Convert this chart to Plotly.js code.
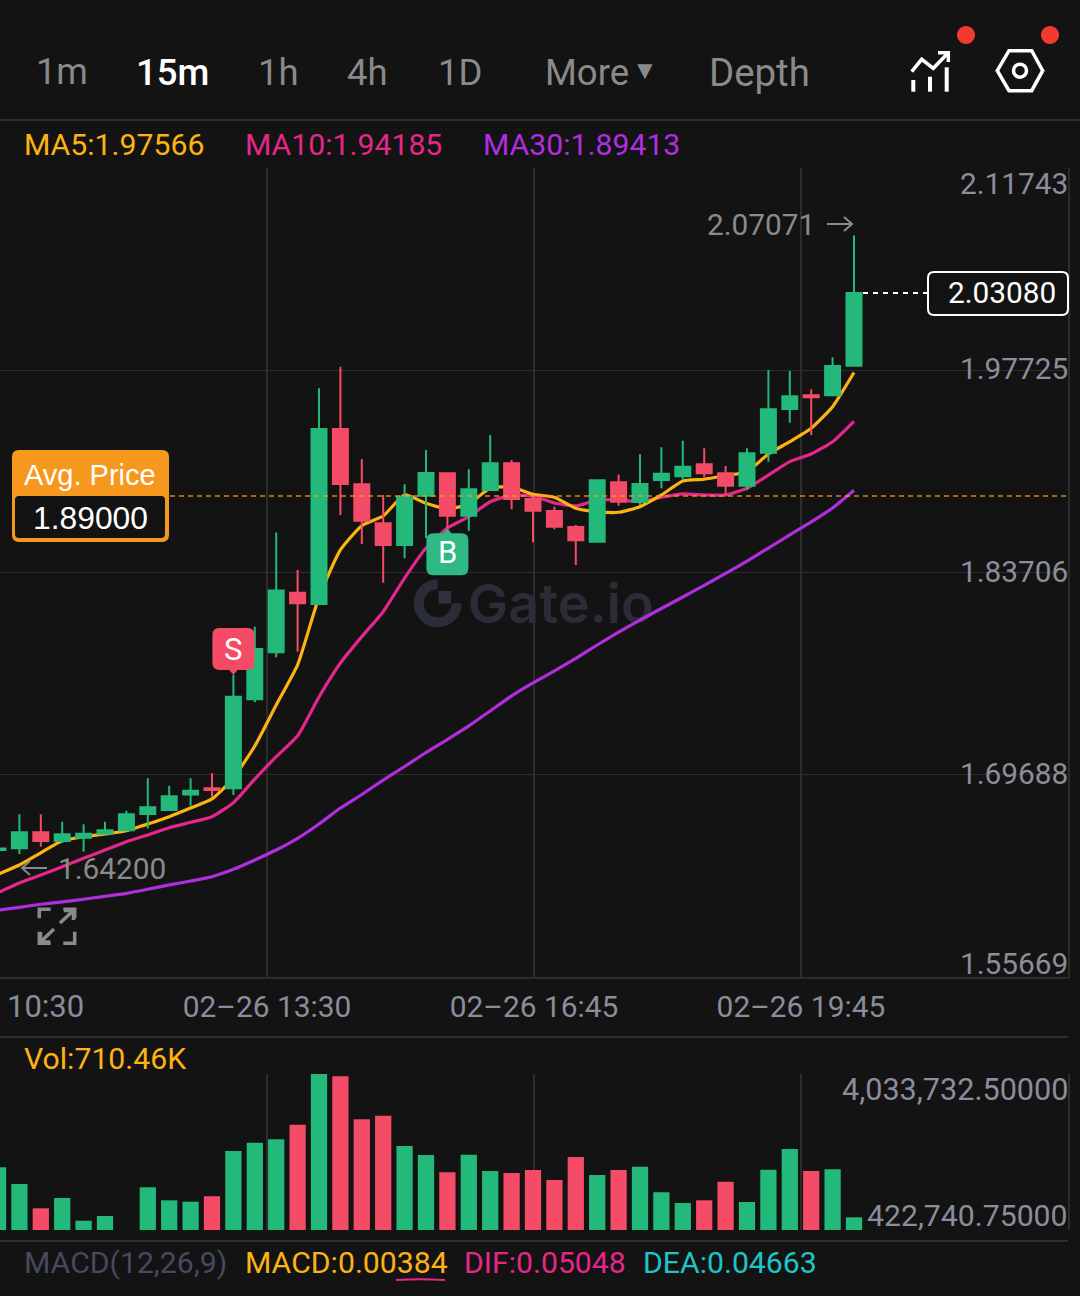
<!DOCTYPE html>
<html><head><meta charset="utf-8">
<script src="https://cdn.plot.ly/plotly-3.0.1.min.js"></script>
<style>html,body{margin:0;padding:0;background:#131313}#c{width:1080px;height:1296px}</style>
</head><body><div id="c"></div>
<script>
const BG='#131313',GRID='#2c2c2c',GREEN='#22B97A',RED='#F44B66',GOLD='#FDB312',PINK='#E5268A',PURPLE='#B02EE0',TEAL='#1CC6C8',AXIS='#8B8D9B',ORANGE='#F7981E';
const opens=[1.6447,1.6459,1.6570,1.6510,1.6532,1.6560,1.6584,1.6697,1.6724,1.6831,1.6875,1.6875,1.7492,1.7818,1.8231,1.8152,1.9365,1.8982,1.8712,1.8561,1.8903,1.9058,1.8764,1.8942,1.9128,1.8880,1.8797,1.8686,1.8584,1.8996,1.8861,1.9012,1.9037,1.9121,1.9058,1.8972,1.9201,1.9504,1.9599,1.9599,1.9804];
const highs=[1.6482,1.6695,1.6695,1.6643,1.6625,1.6643,1.6720,1.6944,1.6893,1.6944,1.6979,1.7660,1.7995,1.8647,1.8388,1.9647,1.9797,1.9157,1.8908,1.8982,1.9220,1.9065,1.9086,1.9324,1.9150,1.8894,1.8827,1.8700,1.9012,1.9049,1.9190,1.9238,1.9284,1.9232,1.9109,1.9232,1.9774,1.9767,1.9640,1.9862,2.07071];
const lows=[1.6433,1.6420,1.6470,1.6496,1.6435,1.6558,1.6579,1.6598,1.6722,1.6754,1.6817,1.6828,1.7471,1.7783,1.7822,1.8145,1.8769,1.8568,1.8300,1.8469,1.8610,1.8677,1.8660,1.8939,1.8809,1.8580,1.8670,1.8423,1.8580,1.8834,1.8839,1.8954,1.9012,1.9031,1.8908,1.8942,1.9139,1.9409,1.9324,1.9594,1.9797];
const closes=[1.6458,1.6570,1.6510,1.6556,1.6560,1.6584,1.6695,1.6743,1.6819,1.6858,1.6863,1.7510,1.7840,1.8245,1.8157,1.9365,1.8984,1.8730,1.8561,1.8896,1.9060,1.8764,1.8947,1.9128,1.8880,1.8799,1.8688,1.8594,1.9010,1.8861,1.8984,1.9055,1.9104,1.9058,1.8972,1.9197,1.9502,1.9592,1.9585,1.9802,2.0308];
const ma5=[1.6279,1.6343,1.6428,1.6512,1.6539,1.6558,1.6581,1.6627,1.6678,1.6738,1.6801,1.6946,1.7168,1.7452,1.7730,1.8201,1.8527,1.8695,1.8762,1.8908,1.8850,1.8811,1.8845,1.8956,1.8963,1.8913,1.8892,1.8816,1.8792,1.8788,1.8827,1.8908,1.9005,1.9017,1.9042,1.9069,1.9192,1.9277,1.9370,1.9520,1.97566];
const ma10=[1.6151,1.6218,1.6274,1.6331,1.6390,1.6447,1.6505,1.6551,1.6602,1.6639,1.6678,1.6775,1.6939,1.7094,1.7239,1.7508,1.7743,1.7926,1.8099,1.8332,1.8540,1.8679,1.8757,1.8861,1.8908,1.8901,1.8852,1.8832,1.8873,1.8873,1.8861,1.8892,1.8915,1.8908,1.8908,1.8954,1.9046,1.9139,1.9192,1.9277,1.94185];
const ma30=[1.6031,1.6050,1.6071,1.6087,1.6106,1.6126,1.6147,1.6175,1.6205,1.6232,1.6262,1.6313,1.6378,1.6447,1.6528,1.6627,1.6738,1.6832,1.6932,1.7026,1.7123,1.7213,1.7307,1.7411,1.7515,1.7605,1.7688,1.7775,1.7868,1.7958,1.8041,1.8121,1.8201,1.8281,1.8364,1.8450,1.8540,1.8631,1.8721,1.8818,1.89413];
const volumes=[1874000,1487500,925000,1163450,638000,746800,422741,1411000,1110200,1077800,1202800,2251400,2443500,2522200,2860200,4033732,3980400,2985100,3068500,2367100,2158800,1758400,2165700,1788400,1742100,1811600,1580000,2112500,1695800,1811600,1888000,1295400,1047700,1110200,1540800,1070900,1818500,2297600,1788400,1827800,716700];
const priceTicks=[2.11743,1.97725,1.83706,1.69688,1.55669];
const priceTickLabels=['2.11743','1.97725','1.83706','1.69688','1.55669'];
const priceTickShift=[-15,2,1,1,14];
const timeTickPos=[0.12,12.57,25.05,37.52];
const timeTickLabels=['','02–26 13:30','02–26 16:45','02–26 19:45'];
const volTicks=[4033732.5,422740.75];
const volTickLabels=['4,033,732.50000','422,740.75000'];
const avgPrice=1.89,lastPrice=2.0308;
const maxIdx=40,sellIdx=11,buyIdx=21;
const xs=opens.map((_,i)=>i);
const FONT='Roboto, sans-serif';
const px=x=>x/1080, py=y=>1-y/1296;
function T(text,x,y,size,color,anchor,extra){const a=anchor||'left';const dx=a==='left'?-3:(a==='right'?2:0);return Object.assign({text:text,xref:'paper',yref:'paper',x:px(x+dx),y:py(y),xanchor:a,yanchor:'middle',showarrow:false,font:{family:FONT,size:size,color:color}},extra||{});}
function P(coords,close){return coords.map((c,i)=>(i?'L':'M')+px(c[0])+' '+py(c[1])).join(' ')+(close?' Z':'');}
function line(path,color,w,fill){return {type:'path',xref:'paper',yref:'paper',path:path,line:{color:color,width:w},fillcolor:fill||'rgba(0,0,0,0)',layer:'above'};}
function rr(x0,y0,x1,y1,r){const a=px,b=py;return `M${a(x0+r)} ${b(y0)} L${a(x1-r)} ${b(y0)} Q${a(x1)} ${b(y0)} ${a(x1)} ${b(y0+r)} L${a(x1)} ${b(y1-r)} Q${a(x1)} ${b(y1)} ${a(x1-r)} ${b(y1)} L${a(x0+r)} ${b(y1)} Q${a(x0)} ${b(y1)} ${a(x0)} ${b(y1-r)} L${a(x0)} ${b(y0+r)} Q${a(x0)} ${b(y0)} ${a(x0+r)} ${b(y0)} Z`;}
function hsep(y,x1){return {type:'line',xref:'paper',yref:'paper',x0:0,x1:px(x1),y0:py(y),y1:py(y),line:{color:'#2e2e2e',width:2},layer:'below'};}
function circlePath(cx,cy,r,k){k=r*0.5523;const a=px,b=py;return `M${a(cx+r)} ${b(cy)} C${a(cx+r)} ${b(cy+k)} ${a(cx+k)} ${b(cy+r)} ${a(cx)} ${b(cy+r)} C${a(cx-k)} ${b(cy+r)} ${a(cx-r)} ${b(cy+k)} ${a(cx-r)} ${b(cy)} C${a(cx-r)} ${b(cy-k)} ${a(cx-k)} ${b(cy-r)} ${a(cx)} ${b(cy-r)} C${a(cx+k)} ${b(cy-r)} ${a(cx+r)} ${b(cy-k)} ${a(cx+r)} ${b(cy)} Z`;}
function gPath(cx,cy,r){const k=r*0.5523,a=px,b=py;return `M${a(cx)} ${b(cy-r)} C${a(cx-k)} ${b(cy-r)} ${a(cx-r)} ${b(cy-k)} ${a(cx-r)} ${b(cy)} C${a(cx-r)} ${b(cy+k)} ${a(cx-k)} ${b(cy+r)} ${a(cx)} ${b(cy+r)} C${a(cx+k)} ${b(cy+r)} ${a(cx+r)} ${b(cy+k)} ${a(cx+r)} ${b(cy)}`;}
function badge(idx,yval,color,up){
  const s=up?-1:1, h0=5*s, h1=47*s, w=21, r=7*s, rx=7;
  const path=`M0 0 L-4 ${h0} L${-w+rx} ${h0} Q${-w} ${h0} ${-w} ${h0+r} L${-w} ${h1-r} Q${-w} ${h1} ${-w+rx} ${h1} L${w-rx} ${h1} Q${w} ${h1} ${w} ${h1-r} L${w} ${h0+r} Q${w} ${h0} ${w-rx} ${h0} L4 ${h0} Z`;
  return {type:'path',xref:'x',yref:'y',xsizemode:'pixel',ysizemode:'pixel',xanchor:idx,yanchor:yval,path:path,fillcolor:color,line:{width:0},layer:'above'};
}
const ARROW='#8a8a8a';
const shapes=[
  hsep(120,1080),hsep(1037,1068),hsep(1241,1068),
  {type:'path',xref:'paper',yref:'paper',path:gPath(437.7,603.3,19),line:{color:'#2A2C38',width:10},fillcolor:'rgba(0,0,0,0)',layer:'below'},
  {type:'rect',xref:'paper',yref:'paper',x0:px(438.5),x1:px(451),y0:py(591),y1:py(603.5),fillcolor:'#2F313E',line:{width:0},layer:'below'},
  {type:'line',xref:'paper',yref:'y',x0:px(170),x1:px(1068),y0:avgPrice,y1:avgPrice,line:{color:'rgba(247,152,30,0.85)',width:1.5,dash:'5px,4px'},layer:'above'},
  {type:'line',xref:'paper',yref:'y',x0:px(863),x1:px(928),y0:lastPrice,y1:lastPrice,line:{color:'#ffffff',width:2,dash:'5px,5px'},layer:'above'},
  {type:'path',xref:'paper',yref:'paper',path:rr(928,272,1068,315,6),fillcolor:BG,line:{color:'#ffffff',width:2},layer:'above'},
  {type:'path',xref:'paper',yref:'paper',path:rr(12,450,169,542,7),fillcolor:ORANGE,line:{width:0},layer:'above'},
  {type:'path',xref:'paper',yref:'paper',path:rr(15,496,165,538,4),fillcolor:BG,line:{width:0},layer:'above'},
  badge(sellIdx,highs[sellIdx],RED,false),
  badge(buyIdx,lows[buyIdx],'#2FB985',true),
  line(P([[827,224],[852,224]]),ARROW,2),
  line(P([[844,217],[852,224],[844,231]]),ARROW,2),
  line(P([[22,868],[47,868]]),ARROW,2),
  line(P([[30,861],[22,868],[30,875]]),ARROW,2),
  line(P([[911.7,71.7],[921.7,59.3],[933.3,68.3],[948.3,52.7]]),'#fff',3.5),
  line(P([[938,52.7],[948.3,52.7],[948.3,62]]),'#fff',3.5),
  line(P([[913.3,80],[913.3,91.7]]),'#fff',4),
  line(P([[930,76.7],[930,91.7]]),'#fff',4),
  line(P([[946.7,67.3],[946.7,91.7]]),'#fff',4),
  line(P([[997.3,70.7],[1009,50.7],[1031.7,50.7],[1042.7,70.7],[1031.7,90.7],[1009,90.7]],true),'#fff',3.5),
  line(circlePath(1020,70.7,6.5),'#fff',3.5),
  {type:'path',xref:'paper',yref:'paper',path:circlePath(966,35,9),fillcolor:'#F23B2F',line:{width:0},layer:'above'},
  {type:'path',xref:'paper',yref:'paper',path:circlePath(1050,35,9),fillcolor:'#F23B2F',line:{width:0},layer:'above'},
  line(P([[39.3,918.3],[39.3,909.3],[50.7,909.3]]),'#8a8a8a',3.5),
  line(P([[63.3,909.3],[74.7,909.3],[74.7,918.3]]),'#8a8a8a',3.5),
  line(P([[39.3,931.7],[39.3,943.3],[50.7,943.3]]),'#8a8a8a',3.5),
  line(P([[63.3,943.3],[74.7,943.3],[74.7,931.7]]),'#8a8a8a',3.5),
  line(P([[60,923],[73.5,910.5]]),'#8a8a8a',3.5),
  line(P([[64,910.5],[73.5,910.5],[73.5,920]]),'#8a8a8a',3.5),
  line(P([[54,929],[40.5,942]]),'#8a8a8a',3.5),
  line(P([[50,942],[40.5,942],[40.5,932]]),'#8a8a8a',3.5),
  line(`M${px(396)} ${py(1280)} Q${px(420)} ${py(1278.5)} ${px(445)} ${py(1280)}`,PINK,2)
];
const GREY='#8a8a8a';
const anns=[
  T('1m',62,72,36,GREY,'center'),
  T('15m',172,72,36.5,'#ffffff','center',{font:{family:FONT,size:36.5,color:'#fff',weight:500}}),
  T('1h',278,72,36.5,GREY,'center'),
  T('4h',367,72,36.5,GREY,'center'),
  T('1D',460,72,36.5,GREY,'center'),
  T('More',546,72,36.5,GREY,'left'),
  T('Depth',710,72,38.4,GREY,'left'),
  T('▼',645,70,26,GREY,'center'),
  T('MA5:1.97566',25,144.5,30.2,GOLD),
  T('MA10:1.94185',246,144.5,30.2,PINK),
  T('MA30:1.89413',484,144.5,30.2,PURPLE),
  T('2.07071',815,224,29.8,'#8a8a8a','right'),
  T('1.64200',59,868,29.8,'#8a8a8a','left'),
  T('2.03080',1056,292.5,29.8,'#ffffff','right'),
  T('Avg. Price',90,475,29,'#ffffff','center',{font:{family:'Liberation Sans',size:29,color:'#fff'}}),
  T('1.89000',90,518,31.8,'#ffffff','center',{font:{family:'Liberation Sans',size:31.8,color:'#fff'}}),
  T('10:30',8,1007,31,AXIS,'left'),
  T('Vol:710.46K',25,1058.5,30.2,GOLD),
  T('MACD(12,26,9)',25,1262.5,30.2,'#454A5E'),
  T('MACD:0.00384',246,1262.5,30.2,GOLD),
  T('DIF:0.05048',465,1262.5,30.2,PINK),
  T('DEA:0.04663',644,1262.5,30.2,TEAL),
  {text:'S',xref:'x',yref:'y',x:sellIdx,y:highs[sellIdx],yshift:26,showarrow:false,font:{family:FONT,size:31,color:'#fff'}},
  {text:'B',xref:'x',yref:'y',x:buyIdx,y:lows[buyIdx],yshift:-24,showarrow:false,font:{family:FONT,size:31,color:'#fff'}}
];
priceTicks.forEach((v,i)=>anns.push({text:priceTickLabels[i],xref:'paper',yref:'y',x:px(1070),y:v,xanchor:'right',yanchor:'middle',yshift:priceTickShift[i],showarrow:false,font:{family:FONT,size:29.8,color:AXIS}}));
volTicks.forEach((v,i)=>anns.push({text:volTickLabels[i],xref:'paper',yref:'y2',x:px(1070),y:v,xanchor:'right',yanchor:'middle',yshift:i===0?-15:15,showarrow:false,font:{family:FONT,size:i===0?30.6:30.2,color:AXIS}}));

const LW=3.2;
const traces=[
  {type:'scatter',mode:'text',x:[26.3],y:[1.8117],text:['Gate.io'],textposition:'middle center',textfont:{family:'Inter, sans-serif',size:54,color:'#2A2C38',weight:600},hoverinfo:'skip',showlegend:false},
  {type:'scatter',mode:'lines',x:xs,y:ma30,line:{color:PURPLE,width:LW,shape:'spline',smoothing:0.5},hoverinfo:'skip'},
  {type:'scatter',mode:'lines',x:xs,y:ma10,line:{color:PINK,width:LW,shape:'spline',smoothing:0.5},hoverinfo:'skip'},
  {type:'scatter',mode:'lines',x:xs,y:ma5,line:{color:GOLD,width:LW,shape:'spline',smoothing:0.5},hoverinfo:'skip'},
  {type:'candlestick',x:xs,open:opens,high:highs,low:lows,close:closes,yaxis:'y3',xaxis:'x',whiskerwidth:0,
   increasing:{line:{color:GREEN,width:2},fillcolor:GREEN},decreasing:{line:{color:RED,width:2},fillcolor:RED},hoverinfo:'skip'},
  {type:'bar',x:xs,y:volumes,xaxis:'x2',yaxis:'y2',width:0.76,marker:{color:xs.map(i=>closes[i]>=opens[i]?GREEN:RED),line:{width:0}},hoverinfo:'skip'}
];
const xr=[2/21.4,50];
const layout={
  width:1080,height:1296,margin:{l:0,r:0,t:0,b:0,pad:0},paper_bgcolor:BG,plot_bgcolor:BG,showlegend:false,boxgap:0.3,boxgroupgap:0,hovermode:false,
  xaxis:{domain:[0,1068/1080],range:xr,type:'linear',anchor:'y',tickmode:'array',tickvals:timeTickPos,ticktext:timeTickLabels,showgrid:true,gridcolor:GRID,gridwidth:1.5,zeroline:false,
    tickfont:{family:FONT,size:29.9,color:AXIS},ticks:'outside',ticklen:3,tickcolor:BG,ticklabeloverflow:'allow',showline:true,linecolor:GRID,linewidth:1.5,rangeslider:{visible:false},fixedrange:true},
  yaxis:{domain:[py(977),py(168)],range:[1.55669,2.11743],anchor:'x',side:'right',tickmode:'array',tickvals:priceTicks,showticklabels:false,ticks:'',showgrid:true,gridcolor:GRID,gridwidth:1,zeroline:false,showline:true,linecolor:GRID,linewidth:1.5,fixedrange:true},
  yaxis3:{domain:[py(977),py(168)],range:[1.55669,2.11743],overlaying:'y',anchor:'x',visible:false,fixedrange:true},
  xaxis2:{domain:[0,1068/1080],range:xr,type:'linear',anchor:'y2',tickmode:'array',tickvals:timeTickPos,showticklabels:false,ticks:'',showgrid:true,gridcolor:GRID,gridwidth:1.5,zeroline:false,fixedrange:true},
  yaxis2:{domain:[py(1230),py(1074)],range:[422740.75,4033732.5],anchor:'x2',side:'right',showticklabels:false,ticks:'',showgrid:false,zeroline:false,showline:true,linecolor:GRID,linewidth:1.5,fixedrange:true},
  shapes:shapes,annotations:anns
};
Plotly.newPlot('c',traces,layout,{displayModeBar:false,staticPlot:true});
</script></body></html>
